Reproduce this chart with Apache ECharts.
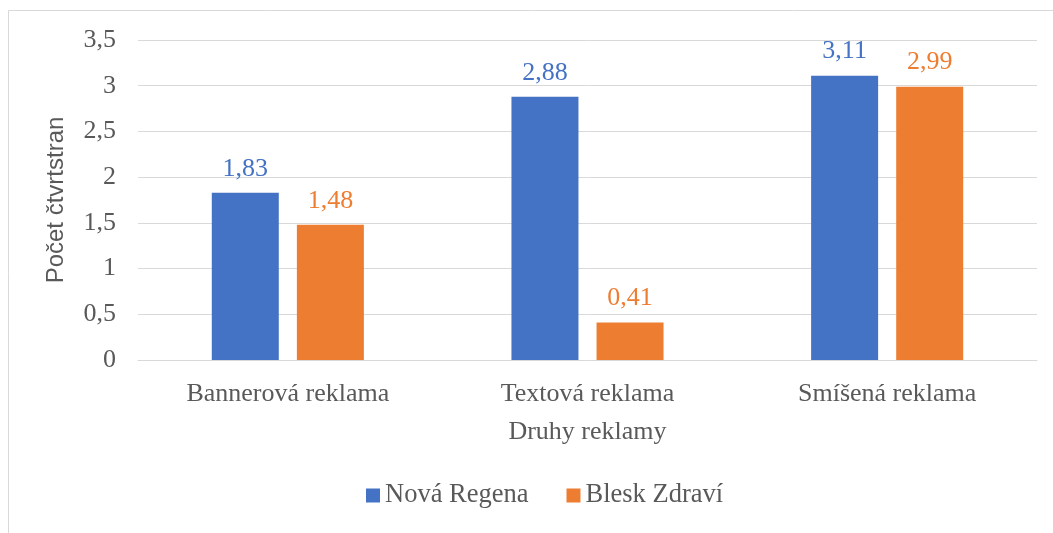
<!DOCTYPE html>
<html lang="cs">
<head>
    <meta charset="UTF-8">
    <title>Počet čtvrtstran</title>
    <script src="https://cdn.jsdelivr.net/npm/echarts@6/dist/echarts.min.js"></script>
    <style>
        *{
            margin: 0;
            padding: 0;
        }
        .container{
            width: 1053px;
            height: 533px;
        }
    </style>
</head>
<body>
<div class="container"></div>
<script>
    const categories = ['Bannerová reklama', 'Textová reklama', 'Smíšená reklama']
    const seriesNames = ['Nová Regena', 'Blesk Zdraví']
    const novaRegena = [1.83, 2.88, 3.11]
    const bleskZdravi = [1.48, 0.41, 2.99]
    const colors = ['#4472C4', '#ED7D31']

    const serif = '"Liberation Serif", "DejaVu Serif", serif'
    const comma = v => String(v).replace('.', ',')

    let chart = echarts.init(document.querySelector('.container'))

    let series = [novaRegena, bleskZdravi].map((values, i) => ({
        name: seriesNames[i],
        type: 'bar',
        data: values,
        barWidth: 67,
        barGap: '27%',
        itemStyle: {color: colors[i]},
        label: {
            show: true,
            position: 'top',
            distance: 11,
            color: colors[i],
            fontFamily: serif,
            fontSize: 26,
            formatter: p => comma(p.value)
        }
    }))

    let option = {
        backgroundColor: '#fff',
        animation: false,
        color: colors,
        graphic: [{
            type: 'rect',
            shape: {x: 8.5, y: 10.5, width: 1100, height: 600},
            style: {fill: 'none', stroke: '#d9d9d9', lineWidth: 1},
            silent: true
        }],
        grid: {left: 138, right: 16, top: 40, bottom: 173},
        legend: {
            bottom: 19,
            left: 361,
            icon: 'rect',
            itemWidth: 14,
            itemHeight: 14,
            itemGap: 38,
            data: seriesNames,
            textStyle: {color: '#595959', fontFamily: serif, fontSize: 26.5, padding: [0, 0, 0, 0]}
        },
        xAxis: {
            type: 'category',
            data: categories,
            name: 'Druhy reklamy',
            nameLocation: 'middle',
            nameGap: 59,
            nameTextStyle: {color: '#595959', fontFamily: serif, fontSize: 26},
            axisLine: {lineStyle: {color: '#d9d9d9', width: 1}},
            axisTick: {show: false},
            axisLabel: {color: '#595959', fontFamily: serif, fontSize: 26, margin: 21}
        },
        yAxis: {
            type: 'value',
            min: 0,
            max: 3.5,
            interval: 0.5,
            name: 'Počet čtvrtstran',
            nameLocation: 'middle',
            nameGap: 70,
            nameTextStyle: {color: '#595959', fontFamily: '"Liberation Sans", Arial, sans-serif', fontSize: 24},
            axisLine: {show: false},
            axisTick: {show: false},
            axisLabel: {
                color: '#595959',
                fontFamily: serif,
                fontSize: 26,
                margin: 22,
                formatter: v => comma(v)
            },
            splitLine: {lineStyle: {color: '#d9d9d9', width: 1}}
        },
        series
    }

    chart.setOption(option)
</script>
</body>
</html>
